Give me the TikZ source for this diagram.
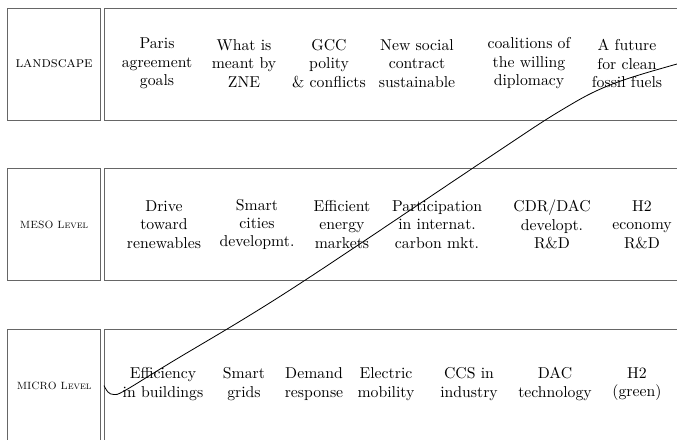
\documentclass[tikz,border=0pt]{standalone}
\begin{document}
\begin{tikzpicture}[x=0.6667pt, y=-0.6667pt,
  frame/.style={draw=black!60, line width=0.75pt, rectangle, inner sep=0pt,
    anchor=north west, minimum height=74.67pt},
  levelbox/.style={frame, minimum width=61.6pt},
  rowbox/.style={frame, minimum width=424pt},
  item/.style={align=center, inner sep=0pt, font=\fontsize{10.5}{12.3}\selectfont},
  levelname/.style={inner sep=0pt, font=\fontsize{7}{8.4}\selectfont\scshape},
  trend/.style={draw=black, line width=0.55pt}]

\useasboundingbox (0,0) rectangle (677,439);
\clip (0,0) rectangle (677,439);

% level boxes (left) and rows of topics (right)
\node[levelbox] (landL)  at (7.3,7.5)  {};
\node[rowbox]   (landR)  at (104,7.5)  {};
\node[levelbox] (mesoL)  at (7.3,168.3) {};
\node[rowbox]   (mesoR)  at (104,168.3) {};
\node[levelbox] (microL) at (7.3,329)  {};
\node[rowbox]   (microR) at (104,329)  {};

\node[inner sep=0pt, font=\fontsize{10}{12}\selectfont] (landT) at (landL.center) {\textsc{landscape}};
\node[levelname] (mesoT)  at (mesoL.center)  {MESO Level};
\node[levelname] (microT) at (microL.center) {MICRO Level};

% landscape topics
\node[item] (l1) at (157,63.5) {Paris\\agreement\\goals};
\node[item] (l2) at (244,63.5) {What is\\meant by\\ZNE};
\node[item] (l3) at (329,63.5) {GCC\\polity\\\& conflicts};
\node[item] (l4) at (417,63.5) {New social\\contract\\sustainable};
\node[item] (l5) at (529,63.5) {coalitions of\\the willing\\diplomacy};
\node[item] (l6) at (627,63.5) {A future\\for clean\\fossil fuels};

% meso topics
\node[item] (m1) at (164,224.5) {Drive\\toward\\renewables};
\node[item] (m2) at (257,224.5) {Smart\\cities\\developmt.};
\node[item] (m3) at (342,224.5) {Efficient\\energy\\markets};
\node[item] (m4) at (437,224.5) {Participation\\in internat.\\carbon mkt.};
\node[item] (m5) at (552,224.5) {CDR/DAC\\developt.\\R\&D};
\node[item] (m6) at (642,224.5) {H2\\economy\\R\&D};

% micro topics
\node[item] (u1) at (163,384) {Efficiency\\in buildings};
\node[item] (u2) at (244,384) {Smart\\grids};
\node[item] (u3) at (314,384) {Demand\\response};
\node[item] (u4) at (386,384) {Electric\\mobility};
\node[item] (u5) at (469,384) {CCS in\\industry};
\node[item] (u6) at (555,384) {DAC\\technology};
\node[item] (u7) at (637,384) {H2\\(green)};

% transition curve rising from the micro level
\coordinate (tail) at (712,56);
\draw[trend] plot[smooth, tension=0.6] coordinates {
  (microR.west) (108,392) (114,394.5) (125,390.5) (170,363)
  (290,290) (485,160) (560,111) (610,85) (677,64) (tail)};
\end{tikzpicture}
\end{document}
